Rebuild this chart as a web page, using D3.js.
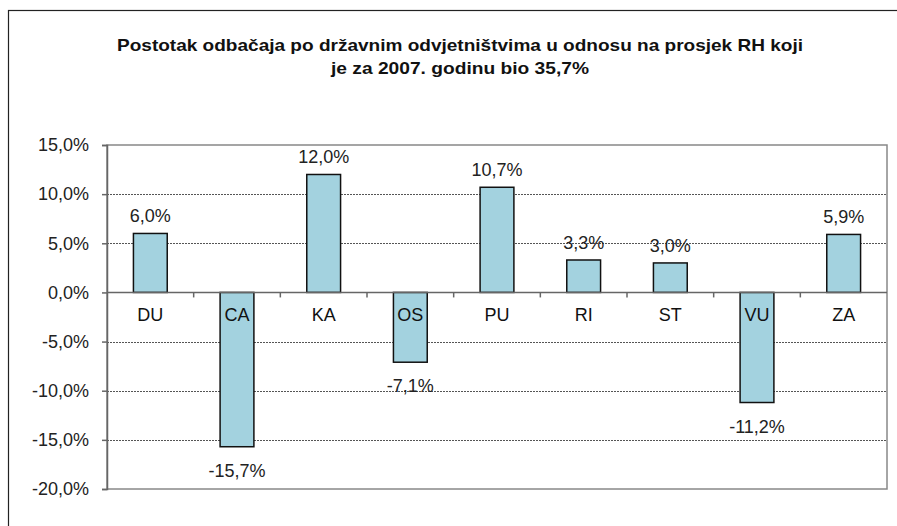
<!DOCTYPE html>
<html>
<head>
<meta charset="utf-8">
<script src="https://cdn.jsdelivr.net/npm/d3@7"></script>
<style>
  body { margin: 0; background: #fff; }
  svg { display: block; font-family: "Liberation Sans", Arial, sans-serif; }
</style>
</head>
<body>
<div id="chart"></div>
<script>
// podaci
var categories = ['DU', 'CA', 'KA', 'OS', 'PU', 'RI', 'ST', 'VU', 'ZA']
var values = [6.0, -15.7, 12.0, -7.1, 10.7, 3.3, 3.0, -11.2, 5.9]
var yTicks = [15, 10, 5, 0, -5, -10, -15, -20]
var titleLines = [
  'Postotak odbačaja po državnim odvjetništvima u odnosu na prosjek RH koji',
  'je za 2007. godinu bio 35,7%'
]

var W = 897, H = 526
var margin = {top: 145, right: 10, bottom: 37, left: 107}
var width = 887 - margin.left
var height = 489 - margin.top
var titleWidths = [686, 258]

var fmt = function(v) { return v.toFixed(1).replace('.', ',') + '%' }

var svg = d3.select('#chart')
  .append('svg')
  .attr('width', W)
  .attr('height', H)

// okvir
svg.append('rect')
  .attr('x', 8.5).attr('y', 10.5)
  .attr('width', 950).attr('height', 600)
  .attr('fill', 'none')
  .attr('stroke', '#222')
  .attr('stroke-width', 1.2)

// naslov
svg.append('g')
  .selectAll('text')
  .data(titleLines)
  .enter()
  .append('text')
  .attr('x', 460)
  .attr('y', function(d, i) { return 51 + i * 23 })
  .attr('text-anchor', 'middle')
  .attr('font-size', '17px')
  .attr('font-weight', 'bold')
  .attr('fill', '#111')
  .attr('textLength', function(d, i) { return titleWidths[i] })
  .attr('lengthAdjust', 'spacingAndGlyphs')
  .text(function(d) { return d })

var g = svg.append('g')
  .attr('transform', 'translate(' + margin.left + ',' + margin.top + ')')

var x = d3.scaleBand()
  .domain(categories)
  .range([0, width])
  .paddingInner(0.61)
  .paddingOuter(0.305)

var y = d3.scaleLinear()
  .domain([-20, 15])
  .range([height, 0])

// mreža
g.selectAll('.grid')
  .data(yTicks.filter(function(t) { return t !== 15 && t !== -20 && t !== 0 }))
  .enter()
  .append('line')
  .attr('class', 'grid')
  .attr('x1', 0).attr('x2', width)
  .attr('y1', function(d) { return Math.round(y(d)) + 0.5 })
  .attr('y2', function(d) { return Math.round(y(d)) + 0.5 })
  .attr('stroke', '#555')
  .attr('stroke-width', 1)
  .attr('stroke-dasharray', '2,1')

// okvir grafa
g.append('rect')
  .attr('x', 0).attr('y', 0)
  .attr('width', width).attr('height', height)
  .attr('fill', 'none')
  .attr('stroke', '#888')
  .attr('stroke-width', 1.5)

// stupci
g.selectAll('.bar')
  .data(values)
  .enter()
  .append('rect')
  .attr('class', 'bar')
  .attr('x', function(d, i) { return x(categories[i]) })
  .attr('width', x.bandwidth())
  .attr('y', function(d) { return y(Math.max(0, d)) })
  .attr('height', function(d) { return Math.abs(y(d) - y(0)) })
  .attr('fill', '#A3D2DF')
  .attr('stroke', '#111')
  .attr('stroke-width', 1.5)

// os y
var yAxis = d3.axisLeft(y)
  .tickValues(yTicks)
  .tickSize(5)
  .tickFormat(fmt)
g.append('g')
  .call(yAxis)
  .call(function(a) {
    a.select('.domain').attr('stroke', '#666').attr('stroke-width', 1.5)
    a.selectAll('.tick line').attr('stroke', '#666').attr('stroke-width', 1.5)
    a.selectAll('.tick text')
      .attr('x', -18)
      .attr('font-size', '18px')
      .attr('font-family', '"Liberation Sans", Arial, sans-serif')
      .attr('fill', '#222')
  })

// os x na nuli
g.append('line')
  .attr('x1', 0).attr('x2', width)
  .attr('y1', y(0)).attr('y2', y(0))
  .attr('stroke', '#666')
  .attr('stroke-width', 1.5)

var step = x.step()
g.selectAll('.xtick')
  .data(d3.range(1, categories.length))
  .enter()
  .append('line')
  .attr('class', 'xtick')
  .attr('x1', function(d) { return d * step }).attr('x2', function(d) { return d * step })
  .attr('y1', y(0)).attr('y2', y(0) + 5)
  .attr('stroke', '#666')
  .attr('stroke-width', 1.5)

// oznake kategorija
g.selectAll('.cat')
  .data(categories)
  .enter()
  .append('text')
  .attr('class', 'cat')
  .attr('x', function(d) { return x(d) + x.bandwidth() / 2 })
  .attr('y', y(0) + 29)
  .attr('text-anchor', 'middle')
  .attr('font-size', '18px')
  .attr('fill', '#111')
  .text(function(d) { return d })

// vrijednosti
g.selectAll('.val')
  .data(values)
  .enter()
  .append('text')
  .attr('class', 'val')
  .attr('x', function(d, i) { return x(categories[i]) + x.bandwidth() / 2 })
  .attr('y', function(d) { return d >= 0 ? y(d) - 11 : y(d) + 30 })
  .attr('text-anchor', 'middle')
  .attr('font-size', '18px')
  .attr('fill', '#222')
  .text(fmt)
</script>
</body>
</html>
